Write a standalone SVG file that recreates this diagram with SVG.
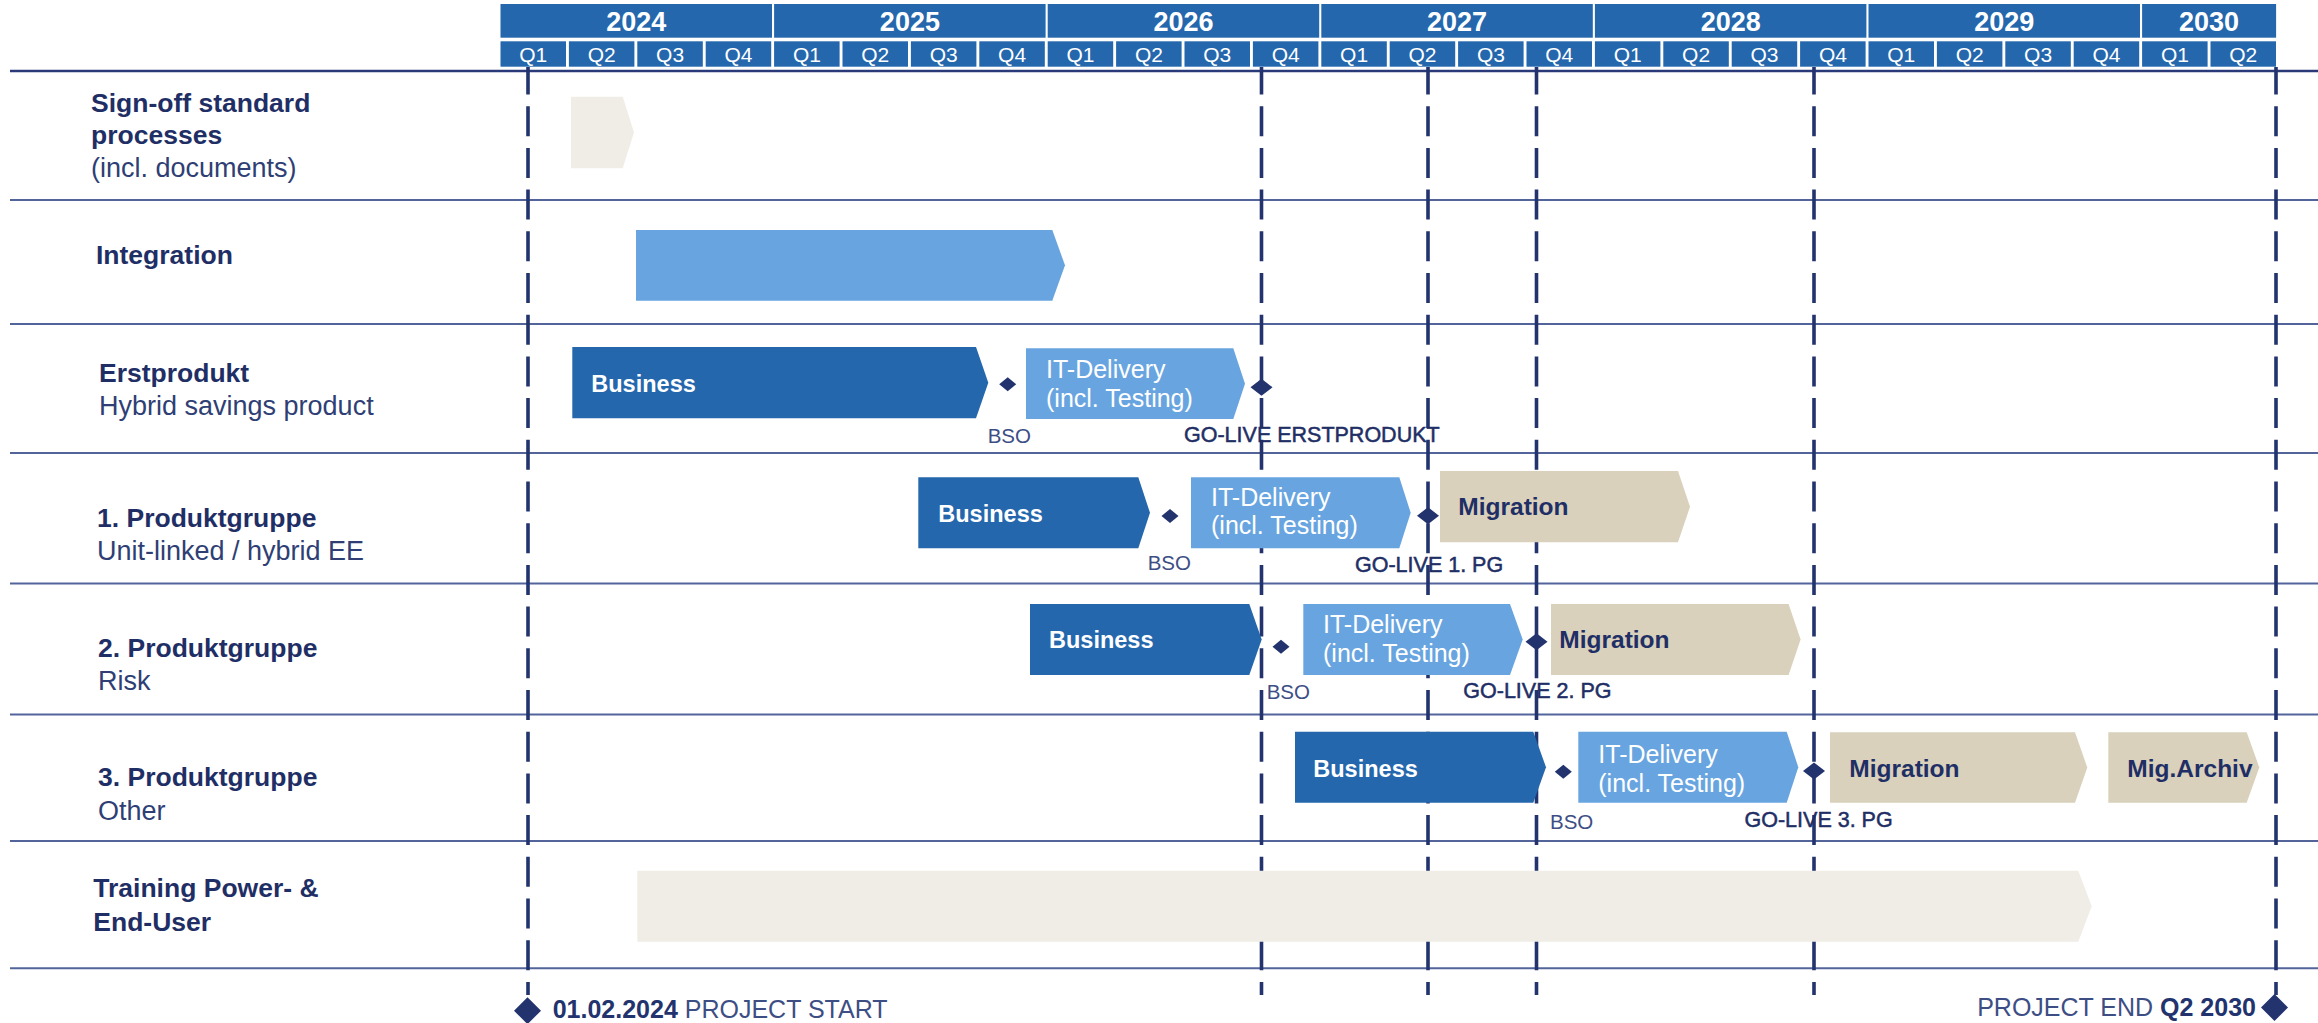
<svg xmlns="http://www.w3.org/2000/svg" width="2318" height="1023" viewBox="0 0 2318 1023">
<style>
.t{font-family:'Liberation Sans',Arial,sans-serif}
.hdr{fill:#2467ad}
.biz{fill:#2467ad}
.it{fill:#68a5e0}
.mig{fill:#d9d1bb}
.lt{fill:#efede5}
.sep{stroke:#53649b;stroke-width:2;fill:none}
.hline{stroke:#2a3a78;stroke-width:2.5;fill:none}
.dash{stroke:#22336e;stroke-width:3.6;stroke-dasharray:30 11.7;stroke-dashoffset:2.5;fill:none}
.ms{fill:#22336e}
.yr{font-weight:bold;font-size:27px;fill:#fff;text-anchor:middle}
.q{font-size:21px;fill:#fff;text-anchor:middle}
.lbl{font-weight:bold;font-size:26.5px;fill:#1f2f66}
.sub{font-size:27px;fill:#2f3f75}
.bt{font-weight:bold;font-size:23.5px;fill:#fff}
.itt{font-size:25px;fill:#fff}
.mt{font-weight:bold;font-size:24.5px;fill:#1f2f66}
.bso{font-size:20.5px;fill:#3d4e85}
.gl{font-size:21.5px;fill:#1f2f66;stroke:#1f2f66;stroke-width:0.5}
.foot{font-size:25px;fill:#3d4e85}
.footb{font-weight:bold;fill:#22336e}
</style>

<g id="connectors">
  <line class="hline" x1="10" y1="71" x2="2318" y2="71"/>
  <line class="sep" x1="10" y1="200" x2="2318" y2="200"/>
  <line class="sep" x1="10" y1="324" x2="2318" y2="324"/>
  <line class="sep" x1="10" y1="453" x2="2318" y2="453"/>
  <line class="sep" x1="10" y1="583.5" x2="2318" y2="583.5"/>
  <line class="sep" x1="10" y1="714.5" x2="2318" y2="714.5"/>
  <line class="sep" x1="10" y1="841" x2="2318" y2="841"/>
  <line class="sep" x1="10" y1="968.3" x2="2318" y2="968.3"/>
  <line class="dash" x1="528" y1="67" x2="528" y2="995"/>
  <line class="dash" x1="1261.5" y1="67" x2="1261.5" y2="995"/>
  <line class="dash" x1="1428" y1="67" x2="1428" y2="995"/>
  <line class="dash" x1="1536.5" y1="67" x2="1536.5" y2="995"/>
  <line class="dash" x1="1814" y1="67" x2="1814" y2="995"/>
  <line class="dash" x1="2276" y1="67" x2="2276" y2="995"/>
</g>

<g id="header" class="t">
  <rect class="hdr" x="500.5" y="4" width="271.5" height="33.7"/>
  <rect class="hdr" x="774.1" y="4" width="271.5" height="33.7"/>
  <rect class="hdr" x="1047.7" y="4" width="271.5" height="33.7"/>
  <rect class="hdr" x="1321.3" y="4" width="271.5" height="33.7"/>
  <rect class="hdr" x="1594.9" y="4" width="271.5" height="33.7"/>
  <rect class="hdr" x="1868.5" y="4" width="271.5" height="33.7"/>
  <rect class="hdr" x="2142.1" y="4" width="134" height="33.7"/>
  <text class="yr" x="636.3" y="30.5">2024</text>
  <text class="yr" x="909.9" y="30.5">2025</text>
  <text class="yr" x="1183.5" y="30.5">2026</text>
  <text class="yr" x="1457.1" y="30.5">2027</text>
  <text class="yr" x="1730.7" y="30.5">2028</text>
  <text class="yr" x="2004.3" y="30.5">2029</text>
  <text class="yr" x="2209.1" y="30.5">2030</text>
  <g id="quarters">
    <rect class="hdr" x="500.5" y="41.3" width="65.5" height="25.4"/>
    <rect class="hdr" x="568.9" y="41.3" width="65.5" height="25.4"/>
    <rect class="hdr" x="637.3" y="41.3" width="65.5" height="25.4"/>
    <rect class="hdr" x="705.7" y="41.3" width="65.5" height="25.4"/>
    <rect class="hdr" x="774.1" y="41.3" width="65.5" height="25.4"/>
    <rect class="hdr" x="842.5" y="41.3" width="65.5" height="25.4"/>
    <rect class="hdr" x="910.9" y="41.3" width="65.5" height="25.4"/>
    <rect class="hdr" x="979.3" y="41.3" width="65.5" height="25.4"/>
    <rect class="hdr" x="1047.7" y="41.3" width="65.5" height="25.4"/>
    <rect class="hdr" x="1116.1" y="41.3" width="65.5" height="25.4"/>
    <rect class="hdr" x="1184.5" y="41.3" width="65.5" height="25.4"/>
    <rect class="hdr" x="1252.9" y="41.3" width="65.5" height="25.4"/>
    <rect class="hdr" x="1321.3" y="41.3" width="65.5" height="25.4"/>
    <rect class="hdr" x="1389.7" y="41.3" width="65.5" height="25.4"/>
    <rect class="hdr" x="1458.1" y="41.3" width="65.5" height="25.4"/>
    <rect class="hdr" x="1526.5" y="41.3" width="65.5" height="25.4"/>
    <rect class="hdr" x="1594.9" y="41.3" width="65.5" height="25.4"/>
    <rect class="hdr" x="1663.3" y="41.3" width="65.5" height="25.4"/>
    <rect class="hdr" x="1731.7" y="41.3" width="65.5" height="25.4"/>
    <rect class="hdr" x="1800.1" y="41.3" width="65.5" height="25.4"/>
    <rect class="hdr" x="1868.5" y="41.3" width="65.5" height="25.4"/>
    <rect class="hdr" x="1936.9" y="41.3" width="65.5" height="25.4"/>
    <rect class="hdr" x="2005.3" y="41.3" width="65.5" height="25.4"/>
    <rect class="hdr" x="2073.7" y="41.3" width="65.5" height="25.4"/>
    <rect class="hdr" x="2142.1" y="41.3" width="65.5" height="25.4"/>
    <rect class="hdr" x="2210.5" y="41.3" width="65.5" height="25.4"/>
    <text class="q" x="533.3" y="62">Q1</text>
    <text class="q" x="601.7" y="62">Q2</text>
    <text class="q" x="670.1" y="62">Q3</text>
    <text class="q" x="738.5" y="62">Q4</text>
    <text class="q" x="806.9" y="62">Q1</text>
    <text class="q" x="875.3" y="62">Q2</text>
    <text class="q" x="943.7" y="62">Q3</text>
    <text class="q" x="1012.1" y="62">Q4</text>
    <text class="q" x="1080.5" y="62">Q1</text>
    <text class="q" x="1148.9" y="62">Q2</text>
    <text class="q" x="1217.3" y="62">Q3</text>
    <text class="q" x="1285.7" y="62">Q4</text>
    <text class="q" x="1354.1" y="62">Q1</text>
    <text class="q" x="1422.5" y="62">Q2</text>
    <text class="q" x="1490.9" y="62">Q3</text>
    <text class="q" x="1559.3" y="62">Q4</text>
    <text class="q" x="1627.7" y="62">Q1</text>
    <text class="q" x="1696.1" y="62">Q2</text>
    <text class="q" x="1764.5" y="62">Q3</text>
    <text class="q" x="1832.9" y="62">Q4</text>
    <text class="q" x="1901.3" y="62">Q1</text>
    <text class="q" x="1969.7" y="62">Q2</text>
    <text class="q" x="2038.1" y="62">Q3</text>
    <text class="q" x="2106.5" y="62">Q4</text>
    <text class="q" x="2174.9" y="62">Q1</text>
    <text class="q" x="2243.3" y="62">Q2</text>
  </g>
</g>

<g id="row-signoff" class="t">
  <text class="lbl" x="91" y="111.5">Sign-off standard</text>
  <text class="lbl" x="91" y="144">processes</text>
  <text class="sub" x="91" y="177">(incl. documents)</text>
  <path class="lt" d="M571 96.7H622.7L634 132.5L622.7 168.3H571Z"/>
</g>

<g id="row-integration" class="t">
  <text class="lbl" x="96" y="264">Integration</text>
  <path class="it" d="M636 230H1052.3L1065 265.3L1052.3 300.7H636Z"/>
</g>

<g id="row-erstprodukt" class="t">
  <text class="lbl" x="99" y="381.7">Erstprodukt</text>
  <text class="sub" x="99" y="415">Hybrid savings product</text>
  <path class="biz" d="M572.3 347H976L988.3 382.7L976 418.3H572.3Z"/>
  <text class="bt" x="591.3" y="391.7">Business</text>
  <polygon class="ms" points="999.2,384.3 1007.7,377.3 1016.2,384.3 1007.7,391.3"/>
  <text class="bso" x="987.7" y="443">BSO</text>
  <path class="it" d="M1026 348.3H1233.3L1245 383.7L1233.3 419H1026Z"/>
  <text class="itt" x="1046" y="378.3">IT-Delivery</text>
  <text class="itt" x="1046" y="407.3">(incl. Testing)</text>
  <polygon class="ms" points="1250.5,387.3 1261.5,378.8 1272.5,387.3 1261.5,395.8"/>
  <text class="gl" x="1184" y="441.7">GO-LIVE ERSTPRODUKT</text>
</g>

<g id="row-pg1" class="t">
  <text class="lbl" x="97" y="526.7">1. Produktgruppe</text>
  <text class="sub" x="97" y="560">Unit-linked / hybrid EE</text>
  <path class="biz" d="M918.3 477.3H1138.3L1150 512.8L1138.3 548.3H918.3Z"/>
  <text class="bt" x="938.3" y="521.7">Business</text>
  <polygon class="ms" points="1161.5,516 1170,509 1178.5,516 1170,523"/>
  <text class="bso" x="1147.7" y="570">BSO</text>
  <path class="it" d="M1191 477.3H1399.3L1410.7 512.8L1399.3 548.3H1191Z"/>
  <text class="itt" x="1211" y="505.7">IT-Delivery</text>
  <text class="itt" x="1211" y="534.3">(incl. Testing)</text>
  <polygon class="ms" points="1417,515.7 1428,507.2 1439,515.7 1428,524.2"/>
  <text class="gl" x="1355" y="571.7">GO-LIVE 1. PG</text>
  <path class="mig" d="M1440 471H1678L1690 506.7L1678 542.3H1440Z"/>
  <text class="mt" x="1458.3" y="515">Migration</text>
</g>

<g id="row-pg2" class="t">
  <text class="lbl" x="98" y="657.3">2. Produktgruppe</text>
  <text class="sub" x="98" y="690">Risk</text>
  <path class="biz" d="M1030 604H1249.3L1261.7 639.5L1249.3 675H1030Z"/>
  <text class="bt" x="1049" y="648.3">Business</text>
  <polygon class="ms" points="1272.5,646.7 1281,639.7 1289.5,646.7 1281,653.7"/>
  <text class="bso" x="1266.7" y="699.3">BSO</text>
  <path class="it" d="M1303.3 604H1510L1522.7 639.5L1510 675H1303.3Z"/>
  <text class="itt" x="1323" y="633.3">IT-Delivery</text>
  <text class="itt" x="1323" y="661.7">(incl. Testing)</text>
  <polygon class="ms" points="1525.5,641.7 1536.5,633.2 1547.5,641.7 1536.5,650.2"/>
  <text class="gl" x="1463.3" y="698.3">GO-LIVE 2. PG</text>
  <path class="mig" d="M1551 604H1788.6L1800.6 639.5L1788.6 675H1551Z"/>
  <text class="mt" x="1559.3" y="648.3">Migration</text>
</g>

<g id="row-pg3" class="t">
  <text class="lbl" x="98" y="786">3. Produktgruppe</text>
  <text class="sub" x="98" y="820">Other</text>
  <path class="biz" d="M1295 731.7H1533.3L1546 767.2L1533.3 802.7H1295Z"/>
  <text class="bt" x="1313.3" y="776.7">Business</text>
  <polygon class="ms" points="1554.8,771.7 1563.3,764.7 1571.8,771.7 1563.3,778.7"/>
  <text class="bso" x="1550" y="829.3">BSO</text>
  <path class="it" d="M1578.3 731.7H1786.7L1798.3 767.2L1786.7 802.7H1578.3Z"/>
  <text class="itt" x="1598.3" y="762.7">IT-Delivery</text>
  <text class="itt" x="1598.3" y="791.7">(incl. Testing)</text>
  <polygon class="ms" points="1803,771 1814,762.5 1825,771 1814,779.5"/>
  <text class="gl" x="1892.7" y="826.7" text-anchor="end">GO-LIVE 3. PG</text>
  <path class="mig" d="M1830 732.3H2075L2087.3 767.5L2075 802.7H1830Z"/>
  <text class="mt" x="1849.3" y="776.7">Migration</text>
  <path class="mig" d="M2108.3 732.3H2246.7L2259.3 767.5L2246.7 802.7H2108.3Z"/>
  <text class="mt" x="2127.3" y="776.7">Mig.Archiv</text>
</g>

<g id="row-training" class="t">
  <text class="lbl" x="93.3" y="896.7">Training Power- &amp;</text>
  <text class="lbl" x="93.3" y="930.7">End-User</text>
  <path class="lt" d="M637.3 870.7H2078.3L2091.7 906.2L2078.3 941.7H637.3Z"/>
</g>

<g id="project-start" class="t">
  <polygon class="ms" points="514,1010.7 527.5,997.2 541,1010.7 527.5,1024.2"/>
  <text class="foot" x="552.7" y="1018.3"><tspan class="footb">01.02.2024</tspan> PROJECT START</text>
</g>

<g id="project-end" class="t">
  <polygon class="ms" points="2261,1007.5 2274.5,994 2288,1007.5 2274.5,1021"/>
  <text class="foot" x="2256" y="1016" text-anchor="end">PROJECT END <tspan class="footb">Q2 2030</tspan></text>
</g>
</svg>
